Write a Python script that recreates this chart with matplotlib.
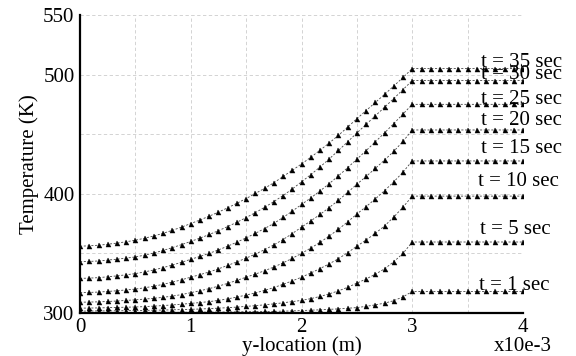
import numpy as np
import matplotlib
matplotlib.use("Agg")
import matplotlib.pyplot as plt

matplotlib.rcParams["font.family"] = ["Liberation Serif", "DejaVu Serif"]

# y-location samples (x10e-3 m): 36 steps on 0..3, 12 steps on 3..4
y_loc = np.linspace(0.0, 4.0, 49)

# temperature along 0..3 (37 markers), K
T_1 = [300.3, 300.3, 300.3, 300.3, 300.3, 300.4, 300.4,
       300.4, 300.4, 300.5, 300.5, 300.5, 300.6,
       300.6, 300.7, 300.7, 300.8, 300.9, 301.0,
       301.1, 301.2, 301.3, 301.5, 301.7, 302.0,
       302.3, 302.6, 303.0, 303.4, 303.9, 304.5,
       305.5, 306.8, 308.2, 310.3, 313.5, 318.0]
T_5 = [301.5, 301.6, 301.7, 301.7, 301.8, 301.9, 302.0,
       302.1, 302.3, 302.4, 302.6, 302.8, 303.0,
       303.3, 303.6, 304.0, 304.4, 304.9, 305.5,
       306.1, 306.8, 307.6, 308.5, 309.5, 310.5,
       312.0, 313.8, 316.0, 318.5, 321.5, 325.0,
       328.5, 332.5, 337.0, 343.0, 350.0, 359.5]
T_10 = [304.0, 304.1, 304.2, 304.4, 304.6, 304.8, 305.0,
        305.3, 305.7, 306.2, 306.7, 307.3, 308.0,
        308.7, 309.5, 310.5, 311.8, 313.3, 315.0,
        316.8, 318.9, 321.3, 324.0, 326.9, 330.0,
        333.5, 337.2, 341.2, 345.5, 350.6, 356.0,
        361.2, 366.8, 373.0, 380.5, 388.8, 398.0]
T_15 = [309.0, 309.1, 309.3, 309.6, 310.0, 310.5, 311.0,
        311.6, 312.3, 313.1, 314.1, 315.4, 317.0,
        318.6, 320.4, 322.5, 324.8, 327.3, 330.0,
        332.6, 335.4, 338.5, 342.0, 345.8, 350.0,
        354.4, 359.2, 364.5, 370.2, 376.4, 383.0,
        389.2, 395.7, 402.6, 410.0, 418.2, 427.5]
T_20 = [317.0, 317.2, 317.5, 318.0, 318.6, 319.3, 320.0,
        321.1, 322.4, 324.0, 325.8, 327.8, 330.0,
        332.1, 334.4, 337.0, 339.9, 342.8, 346.0,
        349.4, 353.1, 357.1, 361.6, 366.6, 372.0,
        377.2, 382.6, 388.4, 394.5, 401.1, 408.0,
        414.5, 421.3, 428.3, 435.6, 444.0, 453.5]
T_25 = [329.0, 329.2, 329.6, 330.3, 331.1, 332.0, 333.0,
        334.4, 336.1, 338.0, 340.2, 342.5, 345.0,
        347.4, 350.0, 352.9, 356.0, 359.4, 363.0,
        366.8, 370.8, 375.1, 380.1, 385.4, 391.0,
        396.5, 402.3, 408.5, 415.0, 421.9, 429.0,
        436.2, 443.6, 451.1, 458.9, 466.9, 475.0]
T_30 = [343.0, 343.2, 343.6, 344.3, 345.1, 346.0, 347.0,
        348.5, 350.3, 352.4, 354.8, 357.3, 360.0,
        362.8, 365.8, 369.0, 372.5, 376.1, 380.0,
        384.2, 388.6, 393.4, 398.5, 404.0, 410.0,
        416.0, 422.4, 429.2, 436.3, 443.6, 451.0,
        458.2, 465.4, 472.6, 479.9, 487.4, 495.0]
T_35 = [356.0, 356.3, 356.8, 357.6, 358.6, 359.7, 361.0,
        362.7, 364.6, 366.8, 369.3, 372.0, 375.0,
        378.0, 381.2, 384.6, 388.2, 392.0, 396.0,
        400.2, 404.6, 409.2, 414.5, 419.7, 425.0,
        430.6, 436.5, 442.6, 449.0, 455.9, 463.0,
        469.8, 476.6, 483.4, 490.4, 497.6, 505.0]

# uniform temperature of the 3..4 region
plateau = {1: 318.0, 5: 359.5, 10: 398.0, 15: 427.5,
           20: 453.5, 25: 475.0, 30: 495.0, 35: 505.0}
ramps = {1: T_1, 5: T_5, 10: T_10, 15: T_15,
         20: T_20, 25: T_25, 30: T_30, 35: T_35}

# label anchor (x, T) for each curve text
label_pos = {35: (3.62, 512), 30: (3.62, 502.5), 25: (3.62, 481),
             20: (3.62, 463.5), 15: (3.62, 440), 10: (3.59, 412),
             5: (3.61, 372), 1: (3.60, 325)}

fig = plt.figure(figsize=(5.76, 3.56), dpi=100)
ax = fig.add_axes([0.139, 0.121, 0.769, 0.837])

for t, ramp in ramps.items():
    T = np.array(ramp + [plateau[t]] * 12)
    ax.plot(y_loc, T, color="#444444", lw=0.6, ls=(0, (2.5, 2)),
            marker="^", ms=3.6, mfc="black", mec="black", mew=0.3)
    lx, ly = label_pos[t]
    ax.text(lx, ly, f"t = {t} sec", fontsize=15, ha="left",
            va="center_baseline")

ax.set_xlim(0, 4)
ax.set_ylim(300, 550)
ax.set_xticks([0, 1, 2, 3, 4])
ax.set_xticks([0.5, 1.5, 2.5, 3.5], minor=True)
ax.set_yticks([300, 400, 500, 550])
ax.set_yticks([350, 450], minor=True)
ax.grid(True, which="both", color="#cccccc", ls=(0, (4, 3)), lw=0.6)
ax.tick_params(which="both", length=0, labelsize=15, pad=4)
for s in ("top", "right"):
    ax.spines[s].set_visible(False)
for s in ("left", "bottom"):
    ax.spines[s].set_linewidth(1.6)

ax.set_xlabel("y-location (m)", fontsize=15, labelpad=-1)
ax.set_ylabel("Temperature (K)", fontsize=15, labelpad=3)
ax.text(1.0, -0.08, "x10e-3", transform=ax.transAxes, fontsize=15,
        ha="center", va="top")

fig.savefig("out.png", dpi=100)
